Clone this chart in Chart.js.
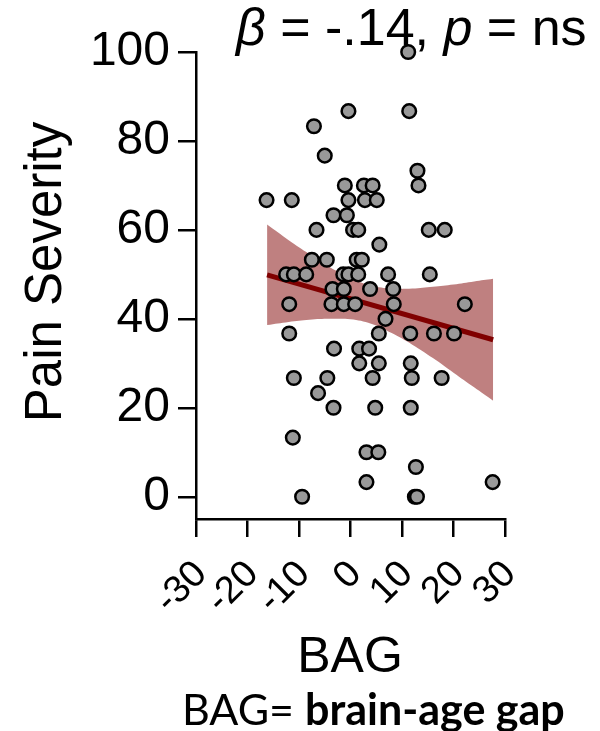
<!DOCTYPE html>
<html>
<head>
<meta charset="utf-8">
<script src="https://cdn.jsdelivr.net/npm/chart.js@4"></script>
<style>
  body { margin: 0; background: #fff; }
  canvas { display: block; }
</style>
</head>
<body>
<canvas id="bag-chart" width="600" height="731"></canvas>
<script>
// subject points: brain-age gap (x) vs pain severity (y)
const bagValues = [
  -16.3, -12.5, -11.0, -8.6, -11.4, -11.9, -11.9, -11.2, -11.0, -9.4,
  -7.5, -6.6, -7.1, -5.0, -6.3, -4.5, -3.3, -3.2, -4.6, -3.3,
  -3.5, -3.7, -1.4, -0.4, -1.3, -1.3, -1.1, -0.4, -0.7, -0.4,
  0.5, 1.5, 1.2, 2.2, 1.5, 0.9, 1.7, 3.6, 1.7, 2.6,
  4.3, 2.8, 5.1, 3.8, 5.5, 4.3, 4.8, 3.1, 5.4, 3.1,
  5.6, 5.5, 6.8, 7.3, 8.3, 8.4, 11.2, 11.4, 11.6, 11.7,
  11.9, 11.7, 12.7, 12.5, 12.9, 13.0, 13.2, 15.2, 18.3, 15.4,
  16.2, 17.7, 20.1, 22.2, 27.6
];
const painValues = [
  66.7, 50, 50, 50, 66.7, 43.3, 36.7, 13.3, 26.7, 0,
  53.3, 60, 83.3, 76.7, 23.3, 26.7, 20, 33.3, 53.3, 63.3,
  46.7, 43.3, 50, 50, 46.7, 43.3, 70, 66.7, 63.3, 86.7,
  60, 60, 53.3, 53.3, 50, 43.3, 33.3, 33.3, 30, 70,
  70, 66.7, 66.7, 46.7, 30, 26.7, 20, 10, 10, 3.3,
  56.7, 36.7, 40, 50, 46.7, 43.3, 100, 86.7, 36.7, 30,
  26.7, 20, 6.7, 0, 0, 73.3, 70, 60, 60, 50,
  36.7, 26.7, 36.7, 43.3, 3.3
];

// fitted line ends and confidence band
const fitX = [-16.2, 27.7];
const fitY = [49.9, 35.3];
const bandX = [-16.2, -12, -8, -4, 0, 4, 8, 12, 16, 20, 24, 27.7];
const bandUpper = [61.2, 57.7, 54.6, 51.6, 49.2, 47.5, 46.8, 46.8, 47.2, 47.7, 48.4, 49.0];
const bandLower = [38.6, 39.3, 39.8, 40.0, 39.9, 38.9, 36.8, 34.2, 31.2, 27.9, 24.6, 21.6];

const xTicks = [-30, -20, -10, 0, 10, 20, 30];
const yTicks = [0, 20, 40, 60, 80, 100];

const titleParts = [['β', true], [' = -.14, ', false], ['p', true], [' = ns', false]];
const yTitle = 'Pain Severity';
const xTitle = 'BAG';
const noteParts = [['BAG= ', false], ['brain-age gap', true]];

const arial = '"Liberation Sans", Arial, sans-serif';

function toPoints(xs, ys) {
    return xs.map((x, i) => ({ x: x, y: ys[i] }));
}

const textPlugin = {
    id: 'texts',
    afterDraw(chart) {
        const ctx = chart.ctx;
        ctx.save();
        ctx.fillStyle = '#000';
        ctx.textBaseline = 'alphabetic';

        // stats line at the top
        ctx.textAlign = 'left';
        let x = 236;
        titleParts.forEach(([t, italic]) => {
            ctx.font = (italic ? 'italic ' : '') + '52px ' + arial;
            ctx.fillText(t, x, 45);
            x += ctx.measureText(t).width;
        });

        // axis titles
        ctx.font = '50px ' + arial;
        ctx.textAlign = 'center';
        ctx.fillText(xTitle, 350, 672);

        ctx.save();
        ctx.translate(61, 272);
        ctx.rotate(-Math.PI / 2);
        ctx.font = '51px ' + arial;
        ctx.fillText(yTitle, 0, 0);
        ctx.restore();

        // footnote
        ctx.textAlign = 'left';
        x = 182;
        noteParts.forEach(([t, bold]) => {
            ctx.font = (bold ? 'bold ' : '') + '43px Lato, "Open Sans", sans-serif';
            ctx.fillText(t, x, 725);
            x += ctx.measureText(t).width;
        });
        ctx.restore();
    }
};

const data = {
    datasets: [
        {
            type: 'scatter',
            data: toPoints(bagValues, painValues),
            backgroundColor: '#999999',
            borderColor: '#000000',
            borderWidth: 2.5,
            pointRadius: 6.8,
            clip: false,
            order: 0
        },
        {
            type: 'line',
            data: toPoints(fitX, fitY),
            borderColor: '#800000',
            borderWidth: 5,
            pointRadius: 0,
            fill: false,
            order: 1
        },
        {
            type: 'line',
            data: toPoints(bandX, bandUpper),
            borderWidth: 0,
            borderColor: 'rgba(0,0,0,0)',
            backgroundColor: '#bf8080',
            pointRadius: 0,
            tension: 0.4,
            fill: '+1',
            order: 2
        },
        {
            type: 'line',
            data: toPoints(bandX, bandLower),
            borderWidth: 0,
            borderColor: 'rgba(0,0,0,0)',
            pointRadius: 0,
            tension: 0.4,
            fill: false,
            order: 3
        }
    ]
};

const config = {
    type: 'scatter',
    data: data,
    options: {
        responsive: false,
        animation: false,
        devicePixelRatio: 1,
        layout: {
            padding: { left: 0, right: 95, top: 52, bottom: 0 }
        },
        plugins: {
            legend: { display: false },
            tooltip: { enabled: false }
        },
        scales: {
            x: {
                type: 'linear',
                min: -30,
                max: 30,
                afterBuildTicks: scale => { scale.ticks = xTicks.map(v => ({ value: v })); },
                afterFit: scale => { scale.height = 212; },
                border: { color: '#000', width: 2.5 },
                grid: { drawOnChartArea: false, tickLength: 18, color: '#000', lineWidth: 2.5 },
                ticks: {
                    color: '#000',
                    font: { family: arial, size: 38 },
                    autoSkip: false,
                    minRotation: 45,
                    maxRotation: 45,
                    labelOffset: 5,
                    padding: 15
                }
            },
            y: {
                type: 'linear',
                min: -5,
                max: 100,
                afterBuildTicks: scale => { scale.ticks = yTicks.map(v => ({ value: v })); },
                afterFit: scale => { scale.width = 196; },
                border: { color: '#000', width: 2.5 },
                grid: { drawOnChartArea: false, tickLength: 18, color: '#000', lineWidth: 2.5 },
                ticks: {
                    color: '#000',
                    font: { family: arial, size: 48 },
                    padding: 8
                }
            }
        }
    },
    plugins: [textPlugin]
};

new Chart(document.getElementById('bag-chart'), config);
</script>
</body>
</html>
